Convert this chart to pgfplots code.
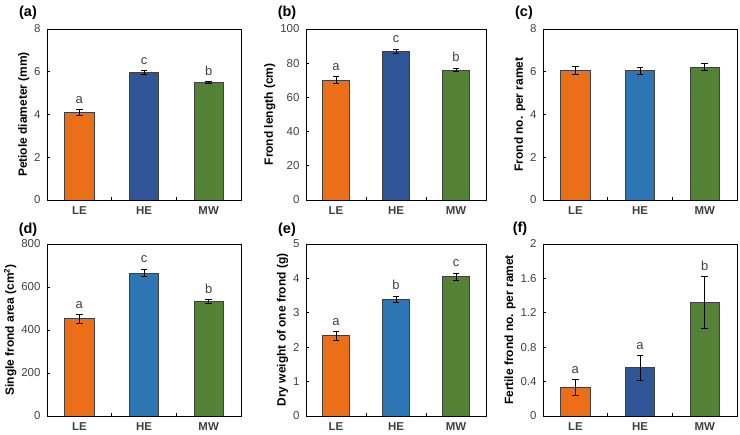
\documentclass[border=0pt]{standalone}
\usepackage{pgfplots}
\pgfplotsset{compat=1.18}
\usepackage{fontspec}
\setmainfont{Liberation Sans}

\definecolor{cOr}{HTML}{EB6E19}
\definecolor{cDb}{HTML}{2F5597}
\definecolor{cLb}{HTML}{2E75B6}
\definecolor{cGr}{HTML}{548235}
\definecolor{tickgray}{HTML}{404040}

\pgfplotsset{
  panel/.style={
    scale only axis, anchor=south west,
    xmin=0.5, xmax=3.5, ymin=0,
    axis line style={line width=0.9bp, black},
    tick align=inside, xtick pos=bottom, ytick pos=left,
    major tick length=2.5bp,
    tick style={black, line width=0.7bp},
    xtick={1,2,3}, xticklabels={LE,HE,MW},
    xtick style={draw=none},
    extra x ticks={1.5,2.5}, extra x tick labels={},
    extra x tick style={xtick style={draw=black, line width=0.7bp}},
    xticklabel style={font=\bfseries\fontsize{11.5}{12}\selectfont, text=tickgray, yshift=-3bp},
    yticklabel style={font=\fontsize{11.5}{12}\selectfont, text=tickgray, xshift=-3bp},
    /pgf/number format/assume math mode=true,
    ylabel style={font=\bfseries\fontsize{12}{13}\selectfont, yshift=-2bp},
    every axis plot/.append style={ybar, bar width=0.45, bar shift=0pt,
      draw=black!75, line width=0.7bp,
      error bars/y dir=both, error bars/y explicit,
      error bars/error bar style={black, line width=0.8bp},
      error bars/error mark options={rotate=90, mark size=3.2bp, black, line width=0.8bp}},
  },
}
\tikzset{
  letter/.style={above=5bp, font=\fontsize{13}{13}\selectfont, text=tickgray, inner sep=1bp},
  plabel/.style={font=\bfseries\fontsize{14.5}{15}\selectfont},
}

\begin{document}
\begin{tikzpicture}[x=1bp,y=1bp]
\useasboundingbox (0,0) rectangle (740,435);

% (a) Petiole diameter
\begin{axis}[panel, at={(47bp,235bp)}, width=194bp, height=171bp,
  ymax=8, ytick={0,2,...,8}, ylabel={Petiole diameter (mm)}]
  \addplot[fill=cOr] coordinates {(1,4.10) +- (0,0.12)};
  \addplot[fill=cDb] coordinates {(2,5.97) +- (0,0.08)};
  \addplot[fill=cGr] coordinates {(3,5.50) +- (0,0.05)};
  \node[letter] at (axis cs:1,4.22) {a};
  \node[letter] at (axis cs:2,6.05) {c};
  \node[letter] at (axis cs:3,5.55) {b};
\end{axis}

% (b) Frond length
\begin{axis}[panel, at={(306bp,235bp)}, width=180bp, height=171bp,
  ymax=100, ytick={0,20,...,100}, ylabel={Frond length (cm)}]
  \addplot[fill=cOr] coordinates {(1,70.2) +- (0,2.0)};
  \addplot[fill=cDb] coordinates {(2,87.0) +- (0,1.3)};
  \addplot[fill=cGr] coordinates {(3,76.0) +- (0,1.0)};
  \node[letter] at (axis cs:1,72.2) {a};
  \node[letter] at (axis cs:2,88.3) {c};
  \node[letter] at (axis cs:3,77.0) {b};
\end{axis}

% (c) Frond number per ramet
\begin{axis}[panel, at={(543bp,235bp)}, width=194bp, height=171bp,
  ymax=8, ytick={0,2,...,8}, ylabel={Frond no. per ramet}]
  \addplot[fill=cOr] coordinates {(1,6.07) +- (0,0.18)};
  \addplot[fill=cLb] coordinates {(2,6.05) +- (0,0.16)};
  \addplot[fill=cGr] coordinates {(3,6.22) +- (0,0.17)};
\end{axis}

% (d) Single frond area
\begin{axis}[panel, at={(47bp,19bp)}, width=194bp, height=172bp,
  ymax=800, ytick={0,200,...,800}, ylabel={Single frond area (cm\textsuperscript{2})}]
  \addplot[fill=cOr] coordinates {(1,452) +- (0,20)};
  \addplot[fill=cLb] coordinates {(2,665) +- (0,18)};
  \addplot[fill=cGr] coordinates {(3,532) +- (0,10)};
  \node[letter] at (axis cs:1,472) {a};
  \node[letter] at (axis cs:2,683) {c};
  \node[letter] at (axis cs:3,542) {b};
\end{axis}

% (e) Dry weight of one frond
\begin{axis}[panel, at={(306bp,19bp)}, width=180bp, height=172bp,
  ymax=5, ytick={0,1,...,5}, ylabel={Dry weight of one frond (g)}]
  \addplot[fill=cOr] coordinates {(1,2.33) +- (0,0.12)};
  \addplot[fill=cLb] coordinates {(2,3.39) +- (0,0.10)};
  \addplot[fill=cGr] coordinates {(3,4.05) +- (0,0.10)};
  \node[letter] at (axis cs:1,2.45) {a};
  \node[letter] at (axis cs:2,3.49) {b};
  \node[letter] at (axis cs:3,4.15) {c};
\end{axis}

% (f) Fertile frond number per ramet
\begin{axis}[panel, at={(543bp,19bp)}, width=194bp, height=172bp,
  ymax=2, ytick={0,0.4,...,2.01}, ylabel={Fertile frond no. per ramet},
  yticklabel style={/pgf/number format/.cd, fixed, precision=1}]
  \addplot[fill=cOr] coordinates {(1,0.33) +- (0,0.095)};
  \addplot[fill=cDb] coordinates {(2,0.56) +- (0,0.145)};
  \addplot[fill=cGr] coordinates {(3,1.32) +- (0,0.30)};
  \node[letter] at (axis cs:1,0.425) {a};
  \node[letter] at (axis cs:2,0.705) {a};
  \node[letter] at (axis cs:3,1.62) {b};
\end{axis}

% panel tags
\node[plabel] at (28,422) {(a)};
\node[plabel] at (287,422) {(b)};
\node[plabel] at (524,422) {(c)};
\node[plabel] at (28,205) {(d)};
\node[plabel] at (287,205) {(e)};
\node[plabel] at (520,206) {(f)};
\end{tikzpicture}
\end{document}
